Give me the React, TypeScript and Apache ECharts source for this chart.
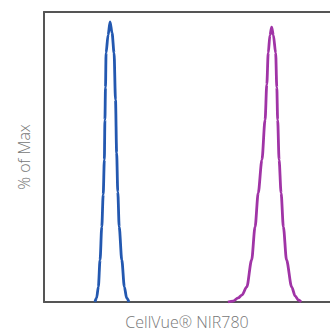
import React, { useEffect, useRef } from "react";
import * as echarts from "echarts";

// channel value (arbitrary units 0-1000) and % of Max
const blueX = [178, 184, 190, 196, 202, 207, 211, 213, 215, 217, 224, 231, 238, 245, 250, 254, 258, 263, 272, 281, 289, 297];
const blueY = [0, 1.4, 5.2, 14.5, 25.9, 37, 49, 62.8, 74, 85.9, 92, 96.6, 92.8, 85.9, 69.7, 51.4, 38, 25.9, 14.5, 5.2, 1.4, 0];

const purpleX = [643, 661, 679, 692, 709, 726, 738, 749, 762, 773, 779, 784, 790, 796, 802, 810, 814, 817, 822, 829, 837, 848, 866, 878, 889, 899];
const purpleY = [0, 0.3, 1.4, 2.4, 5.2, 14.5, 25.9, 37.6, 49, 62.8, 75, 85.9, 92, 94.8, 92, 85.9, 74, 62.8, 49, 37.6, 25.9, 14.5, 5.2, 2.1, 0.7, 0];

const xTitle = "CellVue® NIR780";
const yTitle = "% of Max";

export default function App() {
  const ref = useRef<HTMLDivElement>(null);
  useEffect(() => {
    if (!ref.current) return;
    const chart = echarts.init(ref.current, undefined, { renderer: "svg" });
    const pair = (xs: number[], ys: number[]) => xs.map((x, i) => [x, ys[i]]);
    const line = { show: true, lineStyle: { color: "#555", width: 2 } };
    const nameStyle = { fontFamily: "Open Sans", fontSize: 16, color: "#777", fontWeight: 300 };
    chart.setOption({
      animation: false,
      grid: { left: 44, top: 12, right: 0, bottom: 33 },
      xAxis: [
        {
          type: "value",
          min: 0,
          max: 1000,
          axisLine: line,
          axisTick: { show: false },
          axisLabel: { show: false },
          splitLine: { show: false },
          name: xTitle,
          nameLocation: "middle",
          nameGap: 12,
          nameTextStyle: nameStyle,
        },
        {
          type: "value",
          position: "top",
          min: 0,
          max: 1000,
          axisLine: line,
          axisTick: { show: false },
          axisLabel: { show: false },
          splitLine: { show: false },
        },
      ],
      yAxis: {
        type: "value",
        min: 0,
        max: 100,
        axisLine: line,
        axisTick: { show: false },
        axisLabel: { show: false },
        splitLine: { show: false },
        name: yTitle,
        nameLocation: "middle",
        nameGap: 12,
        nameTextStyle: nameStyle,
      },
      series: [
        {
          type: "line",
          data: pair(blueX, blueY),
          smooth: 0.3,
          smoothMonotone: "x",
          symbol: "none",
          lineStyle: { color: "#2358b0", width: 2.8 },
        },
        {
          type: "line",
          data: pair(purpleX, purpleY),
          smooth: 0.3,
          smoothMonotone: "x",
          symbol: "none",
          lineStyle: { color: "#a034a6", width: 2.8 },
        },
      ],
    });
    return () => chart.dispose();
  }, []);
  return (
    <div
      ref={ref}
      style={{ position: "fixed", left: 0, top: 0, width: 330, height: 335, background: "#fff" }}
    />
  );
}
